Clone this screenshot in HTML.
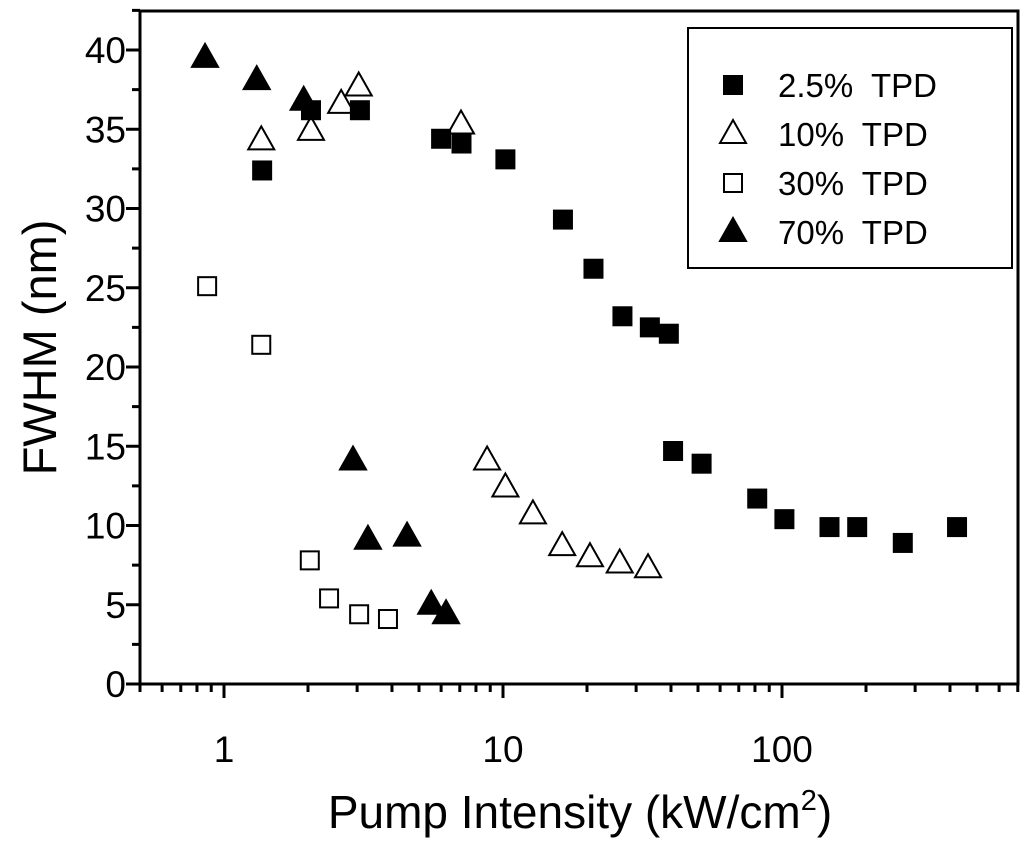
<!DOCTYPE html>
<html><head><meta charset="utf-8"><style>
body{margin:0;background:#fff;}
svg{display:block;font-family:"Liberation Sans",sans-serif;}
</style></head><body>
<svg id="chart" width="1024" height="841">
</svg>
<script>
const xTicksMajor=[1,10,100];
const xTickLabels=["1","10","100"];
const yTicks=[0,5,10,15,20,25,30,35,40];
const s25x=[1.37,2.05,3.07,6.0,7.1,10.2,16.4,21.1,26.8,33.6,39.3,40.7,51.5,81.5,102,148,186,271,424];
const s25y=[32.4,36.2,36.2,34.4,34.1,33.1,29.3,26.2,23.2,22.5,22.1,14.7,13.9,11.7,10.4,9.9,9.9,8.9,9.9];
const s10x=[1.36,2.05,2.63,3.04,7.07,8.77,10.2,12.8,16.3,20.5,26.2,33.1];
const s10y=[34.3,34.9,36.6,37.7,35.3,14.1,12.4,10.7,8.7,8.0,7.6,7.3];
const s30x=[0.87,1.36,2.03,2.38,3.05,3.87];
const s30y=[25.1,21.4,7.8,5.4,4.4,4.1];
const s70x=[0.855,1.31,1.93,2.9,3.28,4.53,5.53,6.25];
const s70y=[39.5,38.1,36.8,14.1,9.1,9.3,5.0,4.4];
const legendLabels=["2.5%  TPD","10%  TPD","30%  TPD","70%  TPD"];

const NS="http://www.w3.org/2000/svg";
const svg=document.getElementById('chart');
const L=140,R=1018,T=11,B=684;
const X=v=>224+279*Math.log10(v);
const Y=v=>684-15.85*v;
function mk(tag,at,parent){const e=document.createElementNS(NS,tag);for(const k in at)e.setAttribute(k,at[k]);(parent||svg).appendChild(e);return e;}
const fr=mk('rect',{x:L,y:T,width:R-L,height:B-T,fill:'none',stroke:'#000','stroke-width':3});


yTicks.forEach(v=>{
  const t=mk('line',{x1:L-14,x2:L,y1:Y(v),y2:Y(v),stroke:'#000','stroke-width':3});
  
  
  const m=mk('line',{x1:L-8,x2:L,y1:Y(v+2.5),y2:Y(v+2.5),stroke:'#000','stroke-width':3});
  
  
  const tx=mk('text',{x:L-14,y:Y(v)+13,'text-anchor':'end','font-size':37});
  tx.textContent=String(v);
  
  
});
for(let d=-1;d<=2;d++){for(let k=1;k<10;k++){const v=k*Math.pow(10,d);if(v<0.5||X(v)>R)continue;
  const major=k===1;
  const t=mk('line',{x1:X(v),x2:X(v),y1:B,y2:B+(major?14:8),stroke:'#000','stroke-width':3});
  
  
}}
xTicksMajor.forEach((v,i)=>{
  const tx=mk('text',{x:X(v),y:B+78,'text-anchor':'middle','font-size':37});
  tx.textContent=xTickLabels[i];
  
  
});
function marker(kind,cx,cy,parent){
  let e;
  if(kind==='sq'||kind==='osq'){e=mk('rect',{x:cx-9,y:cy-9,width:18,height:18,fill:kind==='sq'?'#000':'#fff',stroke:'#000','stroke-width':2},parent);}
  else{e=mk('polygon',{points:`${cx},${cy-14} ${cx+13},${cy+9} ${cx-13},${cy+9}`,fill:kind==='tri'?'#000':'#fff',stroke:'#000','stroke-width':2},parent);}
  return e;
}
const series=[['osq',s30x,s30y,'series-30pct'],['otri',s10x,s10y,'series-10pct'],['sq',s25x,s25y,'series-2-5pct'],['tri',s70x,s70y,'series-70pct']];
series.forEach(([k,xs,ys,n])=>{
  const g=mk('g',{});
  
  
  xs.forEach((v,i)=>{const p=marker(k,X(v),Y(ys[i]),g);
    
    });
});
const lg=mk('g',{});


const lb=mk('rect',{x:688,y:28,width:324,height:240,fill:'#fff',stroke:'#000','stroke-width':2},lg);


const lk=['sq','otri','osq','tri'];
legendLabels.forEach((s,i)=>{
  const y=85+i*49;
  const m=marker(lk[i],733,y,lg);
  
  
  const t=mk('text',{x:778,y:y+12,'font-size':33},lg);
  t.textContent=s;
  t.style.whiteSpace='pre';
  
  
});
const yt=mk('text',{x:0,y:0,'text-anchor':'middle','font-size':47,transform:`translate(56,${(T+B)/2}) rotate(-90)`});
yt.textContent='FWHM (nm)';


const xt=mk('text',{x:580,y:828,'text-anchor':'middle','font-size':46});
xt.innerHTML='Pump Intensity (kW/cm<tspan dy="-18" font-size="29">2</tspan><tspan dy="18">)</tspan>';


</script>
</body></html>
